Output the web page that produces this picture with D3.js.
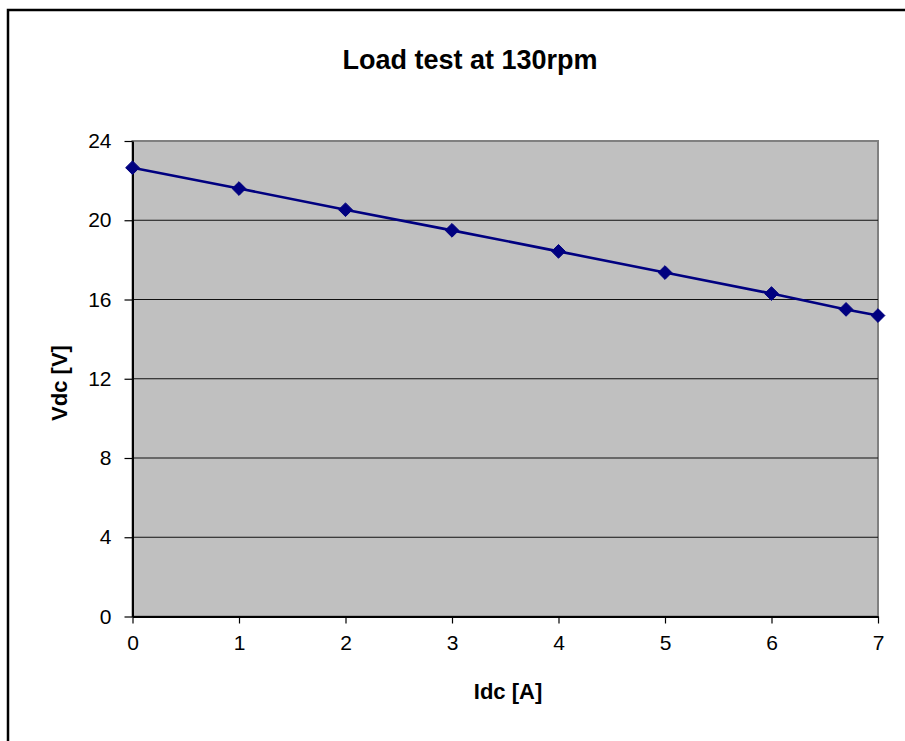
<!DOCTYPE html>
<html>
<head>
<meta charset="utf-8">
<script src="https://cdn.jsdelivr.net/npm/d3@7"></script>
<style>
  body { margin: 0; background: #fff; }
  text { font-family: Arial, "Liberation Sans", sans-serif; }
</style>
</head>
<body>
<script>
// load test readings
var idc = [0, 1, 2, 3, 4, 5, 6, 6.7, 7],
    vdc = [22.65, 21.6, 20.53, 19.49, 18.43, 17.36, 16.3, 15.5, 15.19];

var xTicks = [0, 1, 2, 3, 4, 5, 6, 7],
    yTicks = [0, 4, 8, 12, 16, 20, 24];

var width = 905,
    height = 741,
    plotLeft = 132.5, plotRight = 878,
    plotTop = 141, plotBottom = 616.5;

var svg = d3.select("body").append("svg")
        .attr("width", width)
        .attr("height", height);

// outer chart border (only top and left visible)
svg.append("rect")
    .attr("x", 8).attr("y", 10)
    .attr("width", 1000).attr("height", 1000)
    .attr("fill", "none")
    .attr("stroke", "#000")
    .attr("stroke-width", 2.5);

var x = d3.scaleLinear().domain([0, 7]).range([plotLeft, plotRight]),
    y = d3.scaleLinear().domain([0, 24]).range([plotBottom, plotTop]);

// plot area
svg.append("rect")
    .attr("x", plotLeft).attr("y", plotTop)
    .attr("width", plotRight - plotLeft).attr("height", plotBottom - plotTop)
    .attr("fill", "#c0c0c0")
    .attr("stroke", "#808080")
    .attr("stroke-width", 2);

// gridlines
svg.selectAll(".grid")
    .data(yTicks.filter(function (d) { return d > 0 && d < 24; }))
    .enter().append("line")
    .attr("class", "grid")
    .attr("x1", plotLeft).attr("x2", plotRight)
    .attr("y1", function (d) { return y(d); })
    .attr("y2", function (d) { return y(d); })
    .attr("stroke", "#111")
    .attr("stroke-width", 1.2);

var yAxis = svg.append("g")
    .attr("transform", "translate(" + plotLeft + ",0)")
    .call(d3.axisLeft(y).tickValues(yTicks).tickFormat(d3.format("d"))
        .tickSize(8).tickPadding(13).tickSizeOuter(0));

var xAxis = svg.append("g")
    .attr("transform", "translate(0," + plotBottom + ")")
    .call(d3.axisBottom(x).tickValues(xTicks).tickFormat(d3.format("d"))
        .tickSize(7).tickPadding(12).tickSizeOuter(0));

[xAxis, yAxis].forEach(function (a) {
    a.attr("font-size", 21).attr("font-family", "Arial, 'Liberation Sans', sans-serif");
    a.select(".domain").attr("stroke", "#000").attr("stroke-width", 2);
    a.selectAll(".tick line").attr("stroke", "#000").attr("stroke-width", 1.2);
    a.selectAll(".tick text").attr("fill", "#000");
});

// series line
var line = d3.line()
    .x(function (d, i) { return x(idc[i]); })
    .y(function (d) { return y(d); });

svg.append("path")
    .datum(vdc)
    .attr("d", line)
    .attr("fill", "none")
    .attr("stroke", "#000080")
    .attr("stroke-width", 2.6);

svg.selectAll(".pt")
    .data(vdc)
    .enter().append("path")
    .attr("class", "pt")
    .attr("d", d3.symbol().type(d3.symbolDiamond2).size(120))
    .attr("transform", function (d, i) {
        return "translate(" + x(idc[i]) + "," + y(d) + ")";
    })
    .attr("fill", "#000080")
    .attr("stroke", "#000080")
    .attr("stroke-width", 1);

// titles
svg.append("text")
    .attr("x", 470).attr("y", 69)
    .attr("text-anchor", "middle")
    .style("font-size", "27px")
    .style("font-weight", "bold")
    .text("Load test at 130rpm");

svg.append("text")
    .attr("x", 508).attr("y", 699)
    .attr("text-anchor", "middle")
    .style("font-size", "22px")
    .style("font-weight", "bold")
    .text("Idc [A]");

svg.append("text")
    .attr("transform", "translate(67,383) rotate(-90)")
    .attr("text-anchor", "middle")
    .style("font-size", "22px")
    .style("font-weight", "bold")
    .text("Vdc [V]");
</script>
</body>
</html>
